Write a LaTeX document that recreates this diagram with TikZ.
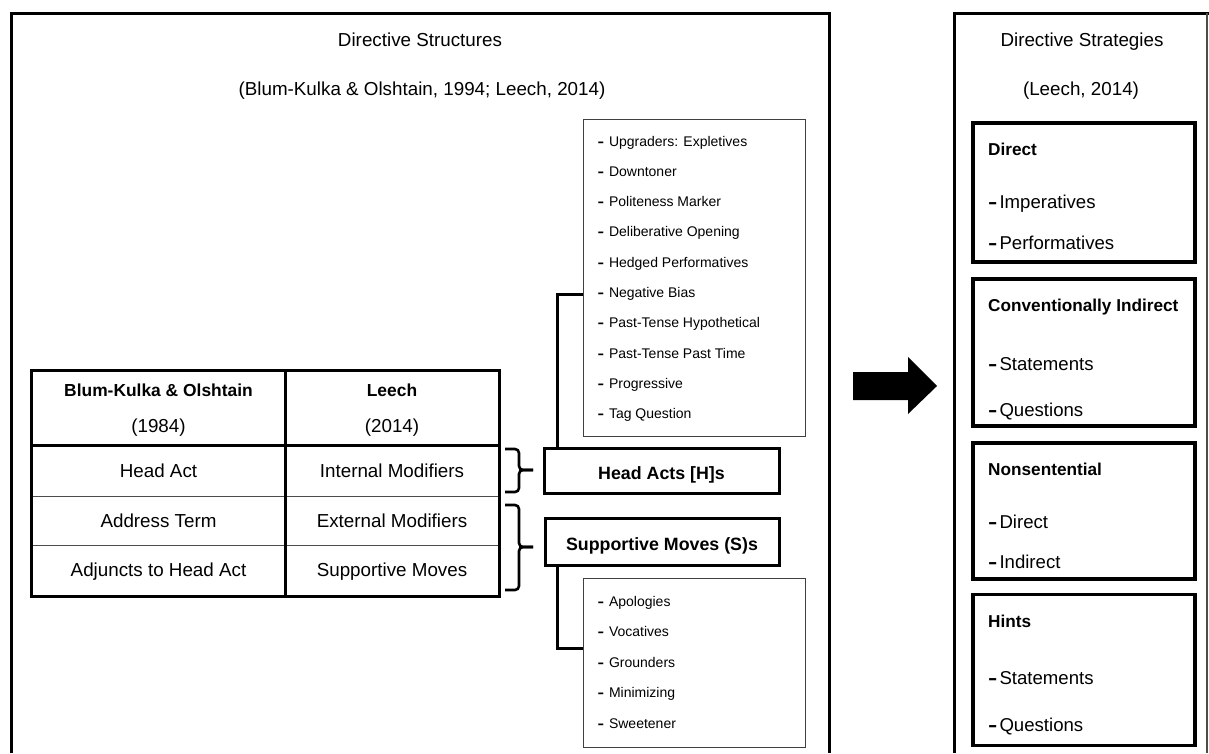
\documentclass[tikz,border=0pt]{standalone}
\usepackage{fontspec}
\usepackage{graphicx}
\setmainfont{Liberation Sans}
\newcommand\ldash{\scalebox{1.4}[1]{\textbf{-}}\hspace{5pt}}
\newcommand\rdash{\scalebox{1.5}[1]{\textbf{-}}\hspace{2pt}}
\begin{document}
\begin{tikzpicture}[x=1pt,y=-1pt,
  thickline/.style={line width=3pt},
  thinline/.style={line width=1pt, draw=black!70},
  bracestyle/.style={line width=2.6pt, rounded corners=4pt},
  txt/.style={inner sep=0pt, anchor=base, font=\fontsize{18.8}{22}\selectfont},
  btxt/.style={inner sep=0pt, anchor=base, font=\fontsize{17.4}{21}\selectfont\bfseries},
  cell/.style={inner sep=0pt, minimum width=#1},
  hbox/.style={draw, line width=3pt, inner sep=0pt, text height=17pt, text depth=0pt,
    font=\fontsize{17.8}{21}\selectfont\bfseries},
  lbox/.style={draw=black!75, line width=1pt, inner sep=0pt, minimum width=222},
  litem/.style={inner sep=0pt, anchor=base west, font=\fontsize{14}{17}\selectfont},
  rbox/.style={draw, line width=3.5pt, inner sep=0pt, minimum width=222},
  rhead/.style={inner sep=0pt, anchor=base west, font=\fontsize{17.2}{20}\selectfont\bfseries},
  ritem/.style={inner sep=0pt, anchor=base west, font=\fontsize{18.6}{22}\selectfont}]
\useasboundingbox (0,0) rectangle (1209,753);

% outer frames
\draw[thickline] (11,753) -- (11,13) -- (829,13) -- (829,753);
\draw[thickline] (954,753) -- (954,13) -- (1209,13);
\draw[line width=1.2pt, black!70] (1207,13) -- (1207,753);

% titles
\node[txt] (t1) at (420,46) {Directive Structures};
\node[txt] (t2) at (422,95) {(Blum-Kulka \& Olshtain, 1994; Leech, 2014)};
\node[txt] (t3) at (1082,46) {Directive Strategies};
\node[txt] (t4) at (1081,95) {(Leech, 2014)};

% table cells
\node[cell=253, minimum height=74] (h1) at (158.5,408) {};
\node[cell=214, minimum height=74] (h2) at (392,408) {};
\node[cell=253, minimum height=51] (r1a) at (158.5,470.5) {};
\node[cell=214, minimum height=51] (r1b) at (392,470.5) {};
\node[cell=253, minimum height=49] (r2a) at (158.5,520.5) {};
\node[cell=214, minimum height=49] (r2b) at (392,520.5) {};
\node[cell=253, minimum height=51] (r3a) at (158.5,570.5) {};
\node[cell=214, minimum height=51] (r3b) at (392,570.5) {};

\draw[thinline] (r1a.south west) -- (r1b.south east);
\draw[thinline] (r2a.south west) -- (r2b.south east);
\draw[thickline] (h1.north west) rectangle (r3b.south east);
\draw[thickline] (h1.north east) -- (r3a.south east);
\draw[thickline] (h1.south west) -- (h2.south east);

\node[btxt] (h1a) at (158.5,396) {Blum-Kulka \& Olshtain};
\node[txt] (h1b) at (158.5,432) {(1984)};
\node[btxt] (h2a) at (392,396) {Leech};
\node[txt] (h2b) at (392,432) {(2014)};
\node[txt] (c11) at (158.5,477) {Head Act};
\node[txt] (c12) at (392,477) {Internal Modifiers};
\node[txt] (c21) at (158.5,527) {Address Term};
\node[txt] (c22) at (392,527) {External Modifiers};
\node[txt] (c31) at (158.5,576) {Adjuncts to Head Act};
\node[txt] (c32) at (392,576) {Supportive Moves};

% braces
\draw[bracestyle] (505,449) -- (519,449) -- (519,470) -- (533,470);
\draw[bracestyle] (533,470) -- (519,470) -- (519,492) -- (505,492);
\draw[bracestyle] (505,505) -- (519,505) -- (519,547) -- (533,547);
\draw[bracestyle] (533,547) -- (519,547) -- (519,590) -- (505,590);

% head acts / supportive moves
\node[hbox, minimum width=235, minimum height=45] (ha) at (661.5,470.5) {Head Acts [H]s};
\node[hbox, minimum width=234, minimum height=47] (sm) at (662,541.5) {Supportive Moves (S)s};

% lists
\node[lbox, minimum height=317] (ul) at (694,277.5) {};
\foreach \t [count=\i] in {Upgraders: Expletives, Downtoner, Politeness Marker,
  Deliberative Opening, Hedged Performatives, Negative Bias, Past-Tense Hypothetical,
  Past-Tense Past Time, Progressive, Tag Question}
  \node[litem] (u\i) at (597.3,{146+30.33*(\i-1)}) {\ldash\t};

\node[lbox, minimum height=169] (ll) at (694,662.5) {};
\foreach \t [count=\i] in {Apologies, Vocatives, Grounders, Minimizing, Sweetener}
  \node[litem] (l\i) at (597.3,{606+30.5*(\i-1)}) {\ldash\t};

\draw[thickline] ([xshift=14.5pt]ha.north west) |- ([yshift=-16.5pt]ul.west);
\draw[thickline] ([xshift=13.5pt]sm.south west) |- ([yshift=14.5pt]ll.west);

% arrow
\fill (853,372) -- (908,372) -- (908,357) -- (937,386) -- (908,414) -- (908,400) -- (853,400) -- cycle;

% right boxes
\node[rbox, minimum height=139] (b1) at (1084,192.5) {};
\node[rhead] (b1h) at (988,155) {Direct};
\node[ritem] (b1a) at (988,208) {\rdash Imperatives};
\node[ritem] (b1b) at (988,249) {\rdash Performatives};

\node[rbox, minimum height=147] (b2) at (1084,352.5) {};
\node[rhead] (b2h) at (988,311) {Conventionally Indirect};
\node[ritem] (b2a) at (988,370) {\rdash Statements};
\node[ritem] (b2b) at (988,416) {\rdash Questions};

\node[rbox, minimum height=136] (b3) at (1084,511) {};
\node[rhead] (b3h) at (988,475) {Nonsentential};
\node[ritem] (b3a) at (988,528) {\rdash Direct};
\node[ritem] (b3b) at (988,568) {\rdash Indirect};

\node[rbox, minimum height=151] (b4) at (1084,670) {};
\node[rhead] (b4h) at (988,627) {Hints};
\node[ritem] (b4a) at (988,684) {\rdash Statements};
\node[ritem] (b4b) at (988,731) {\rdash Questions};
\end{tikzpicture}
\end{document}
